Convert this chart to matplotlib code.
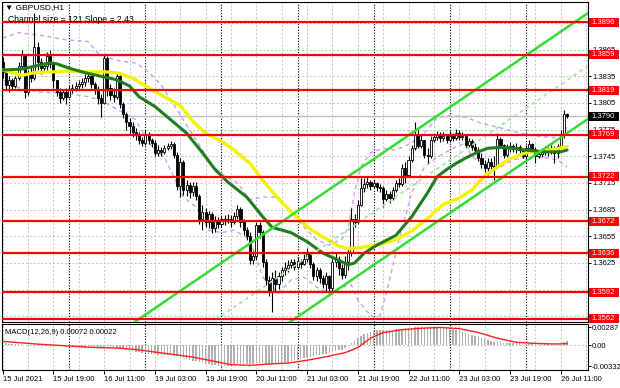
import matplotlib
matplotlib.use('Agg')
import matplotlib.pyplot as plt
from matplotlib.patches import Rectangle
import numpy as np

plt.rcParams['font.family'] = ['Liberation Sans', 'DejaVu Sans']

# ---------------- data ----------------
open_first = 1.3851
close = [1.3840, 1.3825, 1.3831, 1.3824, 1.3833, 1.3847, 1.3859, 1.3817, 1.3840, 1.3833,
         1.3868, 1.3851, 1.3844, 1.3847, 1.3858, 1.3849, 1.3831, 1.3817, 1.3811, 1.3817,
         1.3812, 1.3820, 1.3822, 1.3824, 1.3826, 1.3829, 1.3833, 1.3835, 1.3826, 1.3820,
         1.3811, 1.3805, 1.3856, 1.3822, 1.3814, 1.3812, 1.3835, 1.3804, 1.3793, 1.3783,
         1.3779, 1.3772, 1.3770, 1.3763, 1.3760, 1.3770, 1.3763, 1.3760, 1.3749, 1.3752,
         1.3750, 1.3754, 1.3757, 1.3759, 1.3746, 1.3712, 1.3739, 1.3707, 1.3713, 1.3705,
         1.3712, 1.3700, 1.3675, 1.3682, 1.3671, 1.3680, 1.3664, 1.3673, 1.3669, 1.3674,
         1.3672, 1.3675, 1.3671, 1.3678, 1.3686, 1.3671, 1.3662, 1.3655, 1.3628, 1.3633,
         1.3668, 1.3660, 1.3626, 1.3606, 1.3592, 1.3608, 1.3601, 1.3610, 1.3617, 1.3619,
         1.3623, 1.3626, 1.3621, 1.3627, 1.3624, 1.3630, 1.3635, 1.3624, 1.3610, 1.3617,
         1.3608, 1.3601, 1.3610, 1.3597, 1.3626, 1.3630, 1.3619, 1.3611, 1.3626, 1.3636,
         1.3675, 1.3671, 1.3690, 1.3709, 1.3714, 1.3716, 1.3712, 1.3715, 1.3710, 1.3709,
         1.3697, 1.3702, 1.3698, 1.3707, 1.3715, 1.3714, 1.3732, 1.3724, 1.3741, 1.3754,
         1.3770, 1.3757, 1.3763, 1.3746, 1.3745, 1.3763, 1.3767, 1.3769, 1.3766, 1.3768,
         1.3763, 1.3768, 1.3766, 1.3771, 1.3767, 1.3768, 1.3758, 1.3762, 1.3755, 1.3752,
         1.3743, 1.3736, 1.3732, 1.3739, 1.3734, 1.3733, 1.3764, 1.3758, 1.3746, 1.3754,
         1.3757, 1.3753, 1.3755, 1.3752, 1.3745, 1.3754, 1.3759, 1.3753, 1.3745, 1.3748,
         1.3751, 1.3753, 1.3750, 1.3754, 1.3749, 1.3757, 1.3770, 1.3793, 1.3790]
high = [1.3857, 1.3842, 1.3835, 1.3833, 1.3835, 1.3851, 1.3865, 1.3859, 1.3842, 1.3848,
        1.3906, 1.3874, 1.3856, 1.3851, 1.3862, 1.3865, 1.3851, 1.3831, 1.3822, 1.3820,
        1.3822, 1.3824, 1.3826, 1.3829, 1.3831, 1.3833, 1.3838, 1.3839, 1.3836, 1.3829,
        1.3824, 1.3815, 1.3859, 1.3858, 1.3826, 1.3822, 1.3840, 1.3838, 1.3806, 1.3795,
        1.3788, 1.3783, 1.3777, 1.3772, 1.3767, 1.3775, 1.3772, 1.3766, 1.3763, 1.3758,
        1.3755, 1.3758, 1.3760, 1.3762, 1.3761, 1.3750, 1.3743, 1.3741, 1.3718, 1.3716,
        1.3716, 1.3716, 1.3702, 1.3690, 1.3687, 1.3684, 1.3682, 1.3678, 1.3677, 1.3678,
        1.3679, 1.3680, 1.3679, 1.3682, 1.3690, 1.3688, 1.3674, 1.3666, 1.3660, 1.3639,
        1.3671, 1.3671, 1.3662, 1.3630, 1.3610, 1.3615, 1.3617, 1.3615, 1.3621, 1.3626,
        1.3628, 1.3630, 1.3629, 1.3632, 1.3630, 1.3635, 1.3642, 1.3637, 1.3626, 1.3621,
        1.3619, 1.3612, 1.3615, 1.3612, 1.3630, 1.3637, 1.3633, 1.3624, 1.3633, 1.3642,
        1.3687, 1.3680, 1.3696, 1.3721, 1.3721, 1.3722, 1.3718, 1.3718, 1.3716, 1.3714,
        1.3712, 1.3707, 1.3706, 1.3710, 1.3718, 1.3721, 1.3736, 1.3739, 1.3745, 1.3758,
        1.3783, 1.3775, 1.3770, 1.3763, 1.3754, 1.3768, 1.3771, 1.3773, 1.3772, 1.3772,
        1.3770, 1.3773, 1.3771, 1.3776, 1.3775, 1.3772, 1.3770, 1.3766, 1.3764, 1.3760,
        1.3755, 1.3749, 1.3741, 1.3743, 1.3743, 1.3745, 1.3771, 1.3767, 1.3759, 1.3759,
        1.3761, 1.3759, 1.3760, 1.3758, 1.3753, 1.3758, 1.3763, 1.3760, 1.3755, 1.3752,
        1.3754, 1.3757, 1.3755, 1.3758, 1.3757, 1.3759, 1.3775, 1.3797, 1.3794]
low = [1.3833, 1.3820, 1.3817, 1.3820, 1.3822, 1.3831, 1.3844, 1.3811, 1.3814, 1.3829,
       1.3831, 1.3842, 1.3838, 1.3840, 1.3842, 1.3844, 1.3822, 1.3813, 1.3805, 1.3808,
       1.3804, 1.3811, 1.3816, 1.3818, 1.3821, 1.3822, 1.3824, 1.3829, 1.3822, 1.3815,
       1.3804, 1.3789, 1.3804, 1.3813, 1.3808, 1.3806, 1.3809, 1.3799, 1.3788, 1.3775,
       1.3770, 1.3767, 1.3763, 1.3759, 1.3757, 1.3758, 1.3759, 1.3755, 1.3745, 1.3745,
       1.3745, 1.3748, 1.3752, 1.3753, 1.3743, 1.3707, 1.3699, 1.3701, 1.3700, 1.3698,
       1.3700, 1.3696, 1.3669, 1.3662, 1.3666, 1.3664, 1.3659, 1.3660, 1.3664, 1.3666,
       1.3668, 1.3670, 1.3666, 1.3669, 1.3674, 1.3665, 1.3657, 1.3651, 1.3624, 1.3624,
       1.3628, 1.3653, 1.3621, 1.3600, 1.3588, 1.3570, 1.3594, 1.3596, 1.3605, 1.3611,
       1.3615, 1.3619, 1.3617, 1.3619, 1.3619, 1.3623, 1.3626, 1.3619, 1.3606, 1.3605,
       1.3603, 1.3597, 1.3593, 1.3591, 1.3594, 1.3621, 1.3612, 1.3607, 1.3608, 1.3617,
       1.3633, 1.3665, 1.3669, 1.3689, 1.3705, 1.3709, 1.3707, 1.3709, 1.3706, 1.3705,
       1.3688, 1.3695, 1.3693, 1.3696, 1.3705, 1.3710, 1.3712, 1.3715, 1.3722, 1.3739,
       1.3752, 1.3754, 1.3754, 1.3743, 1.3737, 1.3743, 1.3761, 1.3763, 1.3761, 1.3762,
       1.3760, 1.3761, 1.3762, 1.3763, 1.3763, 1.3763, 1.3754, 1.3755, 1.3752, 1.3750,
       1.3740, 1.3732, 1.3727, 1.3724, 1.3730, 1.3718, 1.3732, 1.3754, 1.3743, 1.3744,
       1.3750, 1.3750, 1.3749, 1.3748, 1.3743, 1.3739, 1.3751, 1.3750, 1.3737, 1.3743,
       1.3744, 1.3746, 1.3745, 1.3748, 1.3737, 1.3743, 1.3754, 1.3766, 1.3788]

# moving averages (sampled at bar indices)
yellow_bars = [0, 6, 10, 16, 21, 26, 32, 36, 41, 46, 51, 56, 60, 64, 69, 73, 78, 82, 87, 92,
               97, 102, 106, 109, 112, 118, 124, 129, 134, 139, 144, 148, 152, 156, 160, 165,
               170, 174, 178]
yellow_vals = [1.3842, 1.3836, 1.3839, 1.3840, 1.3841, 1.3840, 1.3840, 1.3839, 1.3833, 1.3822,
               1.3812, 1.3802, 1.3784, 1.3771, 1.3762, 1.3752, 1.3737, 1.3718, 1.3697, 1.3679,
               1.3663, 1.3652, 1.3644, 1.3641, 1.3642, 1.3645, 1.3651, 1.3661, 1.3675, 1.3691,
               1.3698, 1.3707, 1.3723, 1.3733, 1.3742, 1.3749, 1.3751, 1.3753, 1.3756]
green_bars = [0, 6, 11, 15, 17, 21, 26, 31, 36, 40, 43, 48, 53, 58, 63, 67, 71, 77, 82, 85,
              91, 96, 101, 106, 109, 111, 114, 118, 124, 129, 134, 137, 140, 143, 146, 150,
              153, 157, 161, 165, 170, 176, 178]
green_vals = [1.3842, 1.3843, 1.3847, 1.3850, 1.3849, 1.3844, 1.3839, 1.3835, 1.3831, 1.3824,
              1.3812, 1.3801, 1.3786, 1.3771, 1.3749, 1.3730, 1.3716, 1.3699, 1.3677, 1.3665,
              1.3659, 1.3649, 1.3636, 1.3628, 1.3623, 1.3625, 1.3636, 1.3645, 1.3656, 1.3677,
              1.3704, 1.3722, 1.3730, 1.3737, 1.3743, 1.3750, 1.3754, 1.3755, 1.3754, 1.3752,
              1.3750, 1.3750, 1.3752]
# bands (sampled)
upper_band_bars = [0, 5, 12, 20, 27, 30, 33, 37, 42, 46, 50, 54, 58, 62, 66, 70, 74, 78, 82,
                   87, 93, 99, 103, 107, 109, 111, 113, 116, 120, 124, 129, 133, 137, 140,
                   146, 151, 157, 163, 170, 174, 177, 178]
upper_band_vals = [1.3878, 1.3884, 1.3881, 1.3876, 1.3874, 1.3861, 1.3856, 1.3852, 1.3850,
                   1.3840, 1.3825, 1.3803, 1.3780, 1.3758, 1.3735, 1.3723, 1.3715, 1.3696,
                   1.3699, 1.3699, 1.3673, 1.3651, 1.3645, 1.3652, 1.3665, 1.3705, 1.3733,
                   1.3749, 1.3754, 1.3752, 1.3760, 1.3771, 1.3788, 1.3791, 1.3789, 1.3782,
                   1.3777, 1.3771, 1.3767, 1.3766, 1.3772, 1.3779]
lower_band_bars = [0, 5, 12, 20, 27, 31, 35, 42, 46, 51, 57, 61, 65, 69, 73, 78, 82, 87, 91,
                   95, 99, 103, 107, 110, 112, 115, 117, 119, 121, 125, 129, 133, 137, 142,
                   146, 148, 153, 157, 161, 165, 170, 175, 178]
lower_band_vals = [1.3831, 1.3822, 1.3817, 1.3816, 1.3812, 1.3808, 1.3800, 1.3786, 1.3760,
                   1.3744, 1.3699, 1.3688, 1.3662, 1.3659, 1.3662, 1.3651, 1.3609, 1.3591,
                   1.3606, 1.3609, 1.3598, 1.3591, 1.3598, 1.3600, 1.3583, 1.3570, 1.3564,
                   1.3566, 1.3591, 1.3651, 1.3704, 1.3733, 1.3744, 1.3754, 1.3760, 1.3744,
                   1.3735, 1.3733, 1.3741, 1.3744, 1.3744, 1.3741, 1.3733]

# regression channel
channel_anchor_bar = 178
channel_upper_at_anchor = 1.3890
channel_slope = 0.000243      # price per bar (2.43 pips)
channel_width = 0.0119

levels = [1.3896, 1.3859, 1.3819, 1.3769, 1.3722, 1.3672, 1.3636, 1.3592, 1.3562]
last_price = 1.3790
price_ticks = [1.3565, 1.3595, 1.3625, 1.3655, 1.3685, 1.3715, 1.3745, 1.3775,
               1.3805, 1.3835, 1.3865, 1.3895]
price_tick_labels = ['', '', '1.3625', '1.3655', '1.3685', '1.3715', '1.3745', '1.3775',
                     '1.3805', '1.3835', '1.3865', '']

# MACD histogram (main line) per bar and signal line (sampled)
macd_hist = [0.00030, 0.00026, 0.00022, 0.00018, 0.00015, 0.00012, 0.00012, 0.00006, 0.00004, 0.00002,
             0.00008, 0.00010, 0.00010, 0.00010, 0.00012, 0.00010, 0.00004, -0.00004, -0.00010, -0.00014,
             -0.00022, -0.00026, -0.00030, -0.00032, -0.00034, -0.00036, -0.00038, -0.00040, -0.00042, -0.00044,
             -0.00046, -0.00050, -0.00044, -0.00042, -0.00046, -0.00050, -0.00052, -0.00058, -0.00066, -0.00076,
             -0.00086, -0.00096, -0.00106, -0.00114, -0.00122, -0.00128, -0.00134, -0.00140, -0.00146, -0.00150,
             -0.00150, -0.00152, -0.00152, -0.00150, -0.00156, -0.00180, -0.00195, -0.00210, -0.00222, -0.00234,
             -0.00246, -0.00258, -0.00272, -0.00284, -0.00296, -0.00306, -0.00314, -0.00322, -0.00328, -0.00332,
             -0.00332, -0.00330, -0.00326, -0.00320, -0.00314, -0.00308, -0.00302, -0.00298, -0.00300, -0.00302,
             -0.00290, -0.00284, -0.00286, -0.00292, -0.00300, -0.00302, -0.00296, -0.00290, -0.00282, -0.00272,
             -0.00262, -0.00252, -0.00240, -0.00230, -0.00218, -0.00206, -0.00194, -0.00182, -0.00172, -0.00164,
             -0.00156, -0.00148, -0.00140, -0.00130, -0.00112, -0.00096, -0.00084, -0.00070, -0.00048, -0.00020,
             0.00030, 0.00070, 0.00110, 0.00150, 0.00180, 0.00200, 0.00215, 0.00225, 0.00232, 0.00236,
             0.00238, 0.00240, 0.00242, 0.00246, 0.00250, 0.00254, 0.00260, 0.00264, 0.00270, 0.00275,
             0.00280, 0.00284, 0.00286, 0.00287, 0.00286, 0.00285, 0.00284, 0.00282, 0.00280, 0.00277,
             0.00272, 0.00265, 0.00255, 0.00242, 0.00228, 0.00212, 0.00196, 0.00180, 0.00164, 0.00148,
             0.00130, 0.00112, 0.00095, 0.00080, 0.00066, 0.00055, 0.00052, 0.00046, 0.00040, 0.00036,
             0.00032, 0.00030, 0.00028, 0.00026, 0.00025, 0.00024, 0.00024, 0.00023, 0.00022, 0.00020,
             0.00018, 0.00017, 0.00016, 0.00015, 0.00014, 0.00016, 0.00028, 0.00050, 0.00072]
signal_bars = [0, 6, 12, 18, 24, 30, 36, 42, 48, 54, 60, 66, 72, 78, 84, 90, 96, 102, 108,
               112, 116, 120, 126, 132, 138, 144, 150, 156, 162, 168, 174, 178]
signal_vals = [0.00060, 0.00035, 0.00012, -0.00005, -0.00025, -0.00040, -0.00046, -0.00070,
               -0.00110, -0.00150, -0.00190, -0.00250, -0.00310, -0.00322, -0.00300, -0.00285,
               -0.00240, -0.00185, -0.00120, -0.00040, 0.00110, 0.00200, 0.00245, 0.00268,
               0.00280, 0.00262, 0.00200, 0.00110, 0.00045, 0.00027, 0.00018, 0.00022]

xlabel_bars = [0, 16, 32, 48, 64, 80, 96, 112, 128, 144, 160, 176]
xlabels = ['15 Jul 2021', '15 Jul 19:00', '16 Jul 11:00', '19 Jul 03:00', '19 Jul 19:00',
           '20 Jul 11:00', '21 Jul 03:00', '21 Jul 19:00', '22 Jul 11:00', '23 Jul 03:00',
           '23 Jul 19:00', '26 Jul 11:00']
day_start_bars = [21, 45, 69, 93, 117, 141, 165]
grid_bars = [0, 8, 16, 24, 32, 40, 48, 56, 64, 72, 80, 88, 96, 104, 112, 120, 128, 136,
             144, 152, 160, 168, 176, 184]

# ---------------- figure ----------------
W, H = 620, 388
FS = 5.5
fig = plt.figure(figsize=(W / 100, H / 100), dpi=100)
fig.patch.set_facecolor('white')
ax = fig.add_axes([2 / W, 1 - 322 / H, 586 / W, 320 / H])
axm = fig.add_axes([2 / W, 1 - 370 / H, 586 / W, 46 / H])

XMIN, XMAX = -0.22, 184.6
ax.set_xlim(XMIN, XMAX)
ax.set_ylim(1.35586, 1.39185)
axm.set_xlim(XMIN, XMAX)
axm.set_ylim(-0.00395, 0.00335)

grid_kw = dict(color='#c4c4c4', lw=0.7, ls=(0, (2, 2)), zorder=0.5)
sep_kw = dict(color='black', lw=0.8, ls=(0, (1, 1.5)), zorder=0.6)
for a in (ax, axm):
    for b in grid_bars:
        a.axvline(b, **grid_kw)
    for b in day_start_bars:
        a.axvline(b, **sep_kw)
    for s in a.spines.values():
        s.set_color('black')
        s.set_linewidth(0.8)
for p in price_ticks:
    ax.axhline(p, **grid_kw)
axm.axhline(0.0, **grid_kw)

# current price line
ax.axhline(last_price, color='#c0c0c0', lw=1.0, zorder=0.7)

# bollinger-like bands
band_kw = dict(color='#c9a0f0', lw=1.0, ls=(0, (3, 2.5)), zorder=2)
ax.plot(upper_band_bars, upper_band_vals, **band_kw)
ax.plot(lower_band_bars, lower_band_vals, **band_kw)

# candles
o = np.array([open_first] + close[:-1])
c = np.array(close)
hi = np.maximum(np.array(high), np.maximum(o, c))
lo = np.minimum(np.array(low), np.minimum(o, c))
xs = np.arange(len(c))
up = c >= o
ax.vlines(xs, lo, hi, color='black', lw=0.8, zorder=3)
bottom = np.minimum(o, c)
height = np.maximum(np.abs(c - o), 0.00004)
ax.bar(xs[up], height[up], bottom=bottom[up], width=0.66, facecolor='white',
       edgecolor='black', lw=0.6, zorder=4)
ax.bar(xs[~up], height[~up], bottom=bottom[~up], width=0.66, facecolor='black',
       edgecolor='black', lw=0.6, zorder=4)

# moving averages
ax.plot(yellow_bars, yellow_vals, color='#f4f400', lw=2.4, zorder=5, solid_capstyle='round')
ax.plot(green_bars, green_vals, color='#1e7d1e', lw=2.2, zorder=5.1, solid_capstyle='round')

# regression channel
cx = np.array([XMIN, XMAX])
upper_line = channel_upper_at_anchor + channel_slope * (cx - channel_anchor_bar)
ax.plot(cx, upper_line, color='#33dd33', lw=1.8, zorder=6)
ax.plot(cx, upper_line - channel_width, color='#33dd33', lw=1.8, zorder=6)
ax.plot(cx, upper_line - channel_width / 2, color='#99ee99', lw=1.3,
        ls=(0, (2, 2)), zorder=6)

# horizontal levels
for lv in levels:
    ax.axhline(lv, color='#ff0000', lw=1.6, zorder=7)

# right price axis
ax.yaxis.tick_right()
ax.set_yticks(price_ticks)
ax.set_yticklabels(price_tick_labels)
ax.tick_params(axis='y', labelsize=FS, length=2.5, pad=1, width=0.7)
ax.set_xticks([])

ytr = ax.get_yaxis_transform()
box_h = 9 * (1.39185 - 1.35586) / 320
for lv in levels:
    ax.add_patch(Rectangle((1 + 1 / 586, lv - box_h / 2), 30 / 586, box_h,
                           transform=ytr, facecolor='#ff0000', edgecolor='none',
                           clip_on=False, zorder=20))
    ax.text(1 + 3 / 586, lv, f'{lv:.4f}', transform=ytr, color='white', fontsize=FS,
            va='center', ha='left', clip_on=False, zorder=21)
ax.add_patch(Rectangle((1 + 1 / 586, last_price - box_h / 2), 30 / 586, box_h,
                       transform=ytr, facecolor='black', edgecolor='none',
                       clip_on=False, zorder=20))
ax.text(1 + 3 / 586, last_price, f'{last_price:.4f}', transform=ytr, color='white',
        fontsize=FS, va='center', ha='left', clip_on=False, zorder=21)

# MACD
axm.bar(xs, macd_hist, width=0.45, color='#b0b0b0', zorder=2)
axm.plot(signal_bars, signal_vals, color='#ff2020', lw=1.0, zorder=3)
axm.yaxis.tick_right()
axm.set_yticks([-0.00332, 0.0, 0.00287])
axm.set_yticklabels(['-0.00332', '0.00', '0.00287'])
axm.tick_params(axis='y', labelsize=FS, length=2, pad=0.5, width=0.7)
axm.set_xticks(xlabel_bars)
axm.set_xticklabels(xlabels)
axm.tick_params(axis='x', labelsize=FS, length=3, pad=1, width=0.7)
for t in axm.get_xticklabels():
    t.set_ha('left')

# texts
fig.text(5 / W, 1 - 8 / H, '\u25bc GBPUSD,H1', fontsize=6, va='center', ha='left')
fig.text(8 / W, 1 - 19 / H, 'Channel size = 121 Slope = 2.43', fontsize=6.2,
         va='center', ha='left')
fig.text(5 / W, 1 - 333 / H, 'MACD(12,26,9) 0.00072 0.00022', fontsize=FS,
         va='center', ha='left')

fig.savefig('out.png', dpi=100)
